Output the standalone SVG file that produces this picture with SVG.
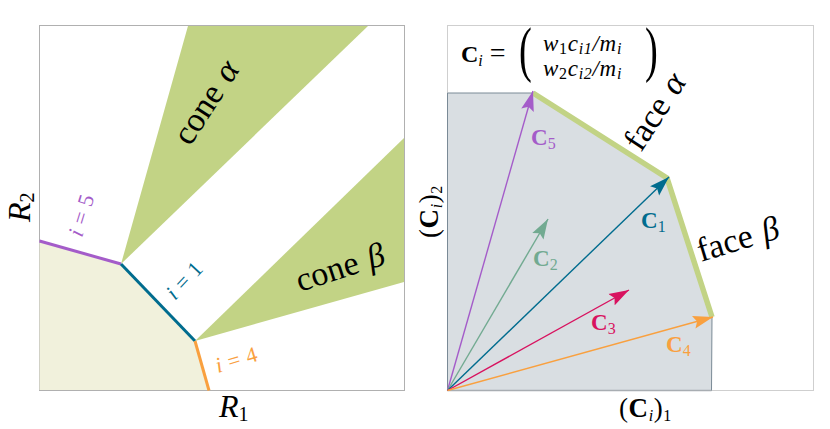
<svg xmlns="http://www.w3.org/2000/svg" width="830" height="429" viewBox="0 0 830 429">
<style>
text{font-family:"Liberation Serif","Times New Roman",serif;fill:#000}
.big{font-size:34px;word-spacing:2px}
.ax{font-size:32px}
.ax .sub{font-size:20px}
.par{font-size:27px;letter-spacing:.6px}
.it{font-style:italic}
.bf{font-weight:bold;font-size:23px}
.sub{font-size:16px}
.lab{font-size:22px;word-spacing:1px}
.frame{fill:none;stroke:#b0b0b0;stroke-width:1}
.cone{fill:#c2d385}
.vec{fill:none;stroke-width:1.4}
.eq{font-size:23px;font-style:italic;letter-spacing:.7px}
.eq .sub{font-size:16px}
.paren{font-size:62px}
</style>
<defs>
<marker id="a5" markerUnits="userSpaceOnUse" markerWidth="22" markerHeight="14" refX="20" refY="7" orient="auto"><path d="M0 0.5L20 7L0 13.5L3.5 7Z" fill="#a45cc9"/></marker>
<marker id="a1" markerUnits="userSpaceOnUse" markerWidth="22" markerHeight="14" refX="20" refY="7" orient="auto"><path d="M0 0.5L20 7L0 13.5L3.5 7Z" fill="#006c8e"/></marker>
<marker id="a2" markerUnits="userSpaceOnUse" markerWidth="22" markerHeight="14" refX="20" refY="7" orient="auto"><path d="M0 0.5L20 7L0 13.5L3.5 7Z" fill="#72aa91"/></marker>
<marker id="a3" markerUnits="userSpaceOnUse" markerWidth="22" markerHeight="14" refX="20" refY="7" orient="auto"><path d="M0 0.5L20 7L0 13.5L3.5 7Z" fill="#d8125f"/></marker>
<marker id="a4" markerUnits="userSpaceOnUse" markerWidth="22" markerHeight="14" refX="20" refY="7" orient="auto"><path d="M0 0.5L20 7L0 13.5L3.5 7Z" fill="#f9a03f"/></marker>
</defs>

<g id="left-panel">
<rect class="frame" x="39.5" y="25.5" width="365" height="365"/>
<polygon fill="#f1f1dc" points="39.5,241 121,264 195,341 209,390 39.5,390"/>
<polygon id="cone-alpha" class="cone" points="121,264 188,26 368,26"/>
<polygon id="cone-beta" class="cone" points="195,341 404,138 404,282"/>
<path d="M39.5 241L121 264" stroke="#a45cc9" stroke-width="3" fill="none"/>
<path d="M121 264L195 341" stroke="#006c8e" stroke-width="3" fill="none"/>
<path d="M195 341L209 390.5" stroke="#f9a03f" stroke-width="3" fill="none"/>
<text class="big" transform="translate(190,147) rotate(-57)">cone <tspan class="it">α</tspan></text>
<text class="big" transform="translate(300,292) rotate(-18)">cone <tspan class="it">β</tspan></text>
<text class="ax it" transform="translate(30,222) rotate(-90)">R<tspan class="sub" font-style="normal" dy="4">2</tspan></text>
<text class="ax it" x="219" y="417">R<tspan class="sub" font-style="normal" dy="4">1</tspan></text>
<text class="lab" style="fill:#a45cc9" transform="translate(82,238) rotate(-73)"><tspan class="it">i</tspan> = 5</text>
<text class="lab" style="fill:#006c8e" transform="translate(175,301) rotate(-47)"><tspan class="it">i</tspan> = 1</text>
<text class="lab" style="fill:#f9a03f" transform="translate(218,373) rotate(-17)"><tspan class="it">i</tspan> = 4</text>
</g>

<g id="right-panel">
<rect x="447.5" y="25.5" width="366" height="365" fill="none" stroke="#cfcfcf"/>
<polygon fill="#d9dee2" stroke="#7a8a96" stroke-width="1" points="447.5,93 533,93 667,178 712,317 711.5,390.5 447.5,390.5"/>
<path d="M447.5 390.5H711.5" stroke="#a8adb2" stroke-width="1.5"/>
<path d="M533 93L667 178L712 317" fill="none" stroke="#c2d385" stroke-width="5.5"/>
<text class="big" transform="translate(641,153) rotate(-57)">face <tspan class="it">α</tspan></text>
<text class="big" transform="translate(701,262) rotate(-17)">face <tspan class="it">β</tspan></text>
<text class="par" transform="translate(438,238) rotate(-90)">(<tspan font-weight="bold">C</tspan><tspan class="it sub" dy="4">i</tspan><tspan dy="-4">)</tspan><tspan class="sub" dy="4">2</tspan></text>
<text class="par" x="619" y="417">(<tspan font-weight="bold">C</tspan><tspan class="it sub" dy="4">i</tspan><tspan dy="-4">)</tspan><tspan class="sub" dy="4">1</tspan></text>
<text x="461" y="62" font-size="24"><tspan font-weight="bold">C</tspan><tspan class="it sub" dy="4">i</tspan><tspan dy="-4" font-size="28"> =</tspan></text>
<text class="paren" transform="translate(519,70) scale(.62,1)">(</text>
<text class="paren" transform="translate(645,70) scale(.62,1)">)</text>
<text class="eq" x="543" y="51">w<tspan class="sub" font-style="normal" dy="3">1</tspan><tspan dy="-3">c</tspan><tspan class="sub" dy="3">i1</tspan><tspan dy="-3">/m</tspan><tspan class="sub" dy="3">i</tspan></text>
<text class="eq" x="543" y="76">w<tspan class="sub" font-style="normal" dy="3">2</tspan><tspan dy="-3">c</tspan><tspan class="sub" dy="3">i2</tspan><tspan dy="-3">/m</tspan><tspan class="sub" dy="3">i</tspan></text>
</g>

<g id="connectors">
<path class="vec" d="M447.5 390.5L533 91" stroke="#a45cc9" marker-end="url(#a5)"/>
<path class="vec" d="M447.5 390.5L548 219" stroke="#72aa91" marker-end="url(#a2)"/>
<path class="vec" d="M447.5 390.5L669 177" stroke="#006c8e" marker-end="url(#a1)"/>
<path class="vec" d="M447.5 390.5L629 290" stroke="#d8125f" marker-end="url(#a3)"/>
<path class="vec" d="M447.5 390.5L713 317" stroke="#f9a03f" marker-end="url(#a4)"/>
</g>

<g id="vector-labels">
<text class="bf" style="fill:#a45cc9" x="531" y="145">C<tspan class="sub" font-weight="normal" dy="4">5</tspan></text>
<text class="bf" style="fill:#72aa91" x="533" y="266">C<tspan class="sub" font-weight="normal" dy="4">2</tspan></text>
<text class="bf" style="fill:#006c8e" x="641" y="228">C<tspan class="sub" font-weight="normal" dy="4">1</tspan></text>
<text class="bf" style="fill:#d8125f" x="591" y="330">C<tspan class="sub" font-weight="normal" dy="4">3</tspan></text>
<text class="bf" style="fill:#f9a03f" x="666" y="352">C<tspan class="sub" font-weight="normal" dy="4">4</tspan></text>
</g>
</svg>
